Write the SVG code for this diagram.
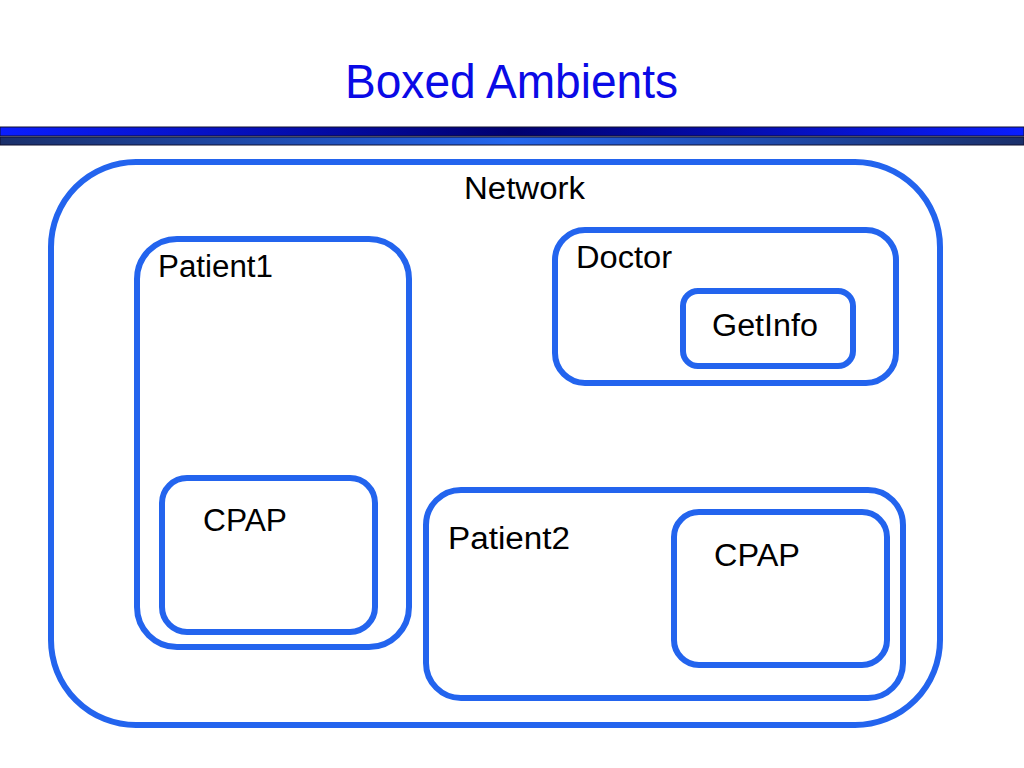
<svg xmlns="http://www.w3.org/2000/svg" width="1024" height="768" viewBox="0 0 1024 768">
  <defs>
    <linearGradient id="barTop" x1="0" y1="0" x2="1" y2="0">
      <stop offset="0" stop-color="#0a1eff"/>
      <stop offset="0.5" stop-color="#000070"/>
      <stop offset="1" stop-color="#0a1eff"/>
    </linearGradient>
    <linearGradient id="barBot" x1="0" y1="0" x2="1" y2="0">
      <stop offset="0" stop-color="#1a2f6a"/>
      <stop offset="0.5" stop-color="#2466ee"/>
      <stop offset="1" stop-color="#1a2f6a"/>
    </linearGradient>
    <style>
      .box { fill: none; stroke: #2364ee; stroke-width: 6; }
      .lbl { font-family: "Liberation Sans", Arial, sans-serif; font-size: 31px; fill: #000; }
      .title { font-family: "Liberation Sans", Arial, sans-serif; font-size: 49px; fill: #0a0ae6; }
    </style>
  </defs>
  <rect width="1024" height="768" fill="#ffffff"/>
  <g id="header">
    <text class="title" x="345" y="98" textLength="333" lengthAdjust="spacingAndGlyphs">Boxed Ambients</text>
    <rect x="0" y="127" width="1024" height="9" fill="url(#barTop)" stroke="#101030" stroke-width="1"/>
    <rect x="0" y="137" width="1024" height="8" fill="url(#barBot)" stroke="#101030" stroke-width="1"/>
  </g>
  <g id="network">
    <rect class="box" x="51" y="162" width="889" height="563" rx="85" ry="85"/>
    <text class="lbl" x="464" y="199" textLength="121" lengthAdjust="spacingAndGlyphs">Network</text>
  </g>
  <g id="patient1">
    <rect class="box" x="137" y="239" width="272" height="408" rx="40" ry="40"/>
    <text class="lbl" x="158" y="277" textLength="115" lengthAdjust="spacingAndGlyphs">Patient1</text>
  </g>
  <g id="cpap1">
    <rect class="box" x="162" y="478" width="213" height="154" rx="25" ry="25"/>
    <text class="lbl" x="203" y="531" textLength="84" lengthAdjust="spacingAndGlyphs">CPAP</text>
  </g>
  <g id="doctor">
    <rect class="box" x="555" y="230" width="341" height="153" rx="30" ry="30"/>
    <text class="lbl" x="576" y="268" textLength="96" lengthAdjust="spacingAndGlyphs">Doctor</text>
  </g>
  <g id="getinfo">
    <rect class="box" x="683" y="291" width="170" height="75" rx="15" ry="15"/>
    <text class="lbl" x="712" y="336" textLength="106" lengthAdjust="spacingAndGlyphs">GetInfo</text>
  </g>
  <g id="patient2">
    <rect class="box" x="426" y="490" width="477" height="208" rx="35" ry="35"/>
    <text class="lbl" x="448" y="549" textLength="122" lengthAdjust="spacingAndGlyphs">Patient2</text>
  </g>
  <g id="cpap2">
    <rect class="box" x="674" y="512" width="213" height="153" rx="25" ry="25"/>
    <text class="lbl" x="714" y="566" textLength="86" lengthAdjust="spacingAndGlyphs">CPAP</text>
  </g>
  <g id="connectors"></g>
</svg>
